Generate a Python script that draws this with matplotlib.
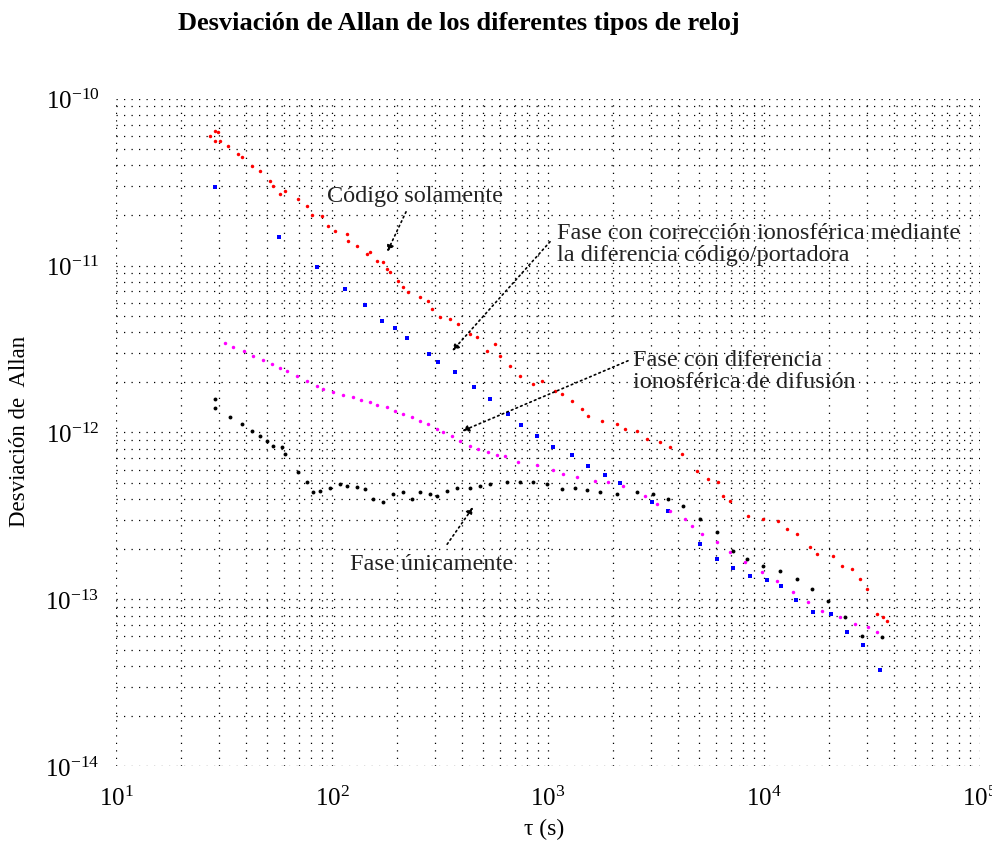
import matplotlib
matplotlib.use("Agg")
import matplotlib.pyplot as plt

plt.rcParams['font.family'] = ['Liberation Serif', 'DejaVu Serif']
plt.rcParams['mathtext.fontset'] = 'stix'

# Código solamente (red)
tau_code = [27.2, 28.7, 29.7, 28.7, 30.3, 33.0, 36.7, 38.3, 42.6, 46.4, 51.6, 53.3,
            57.4, 60.6, 69.6, 76.6, 80.8, 89.9, 95.7, 103, 117, 119, 131, 145, 150,
            161, 172, 180, 186, 202, 213, 225, 255, 278, 290, 316, 352, 383, 436, 469,
            522, 569, 600, 667, 742, 853, 938, 1077, 1161, 1291, 1437, 1531, 1778,
            2085, 2270, 2582, 2871, 3300, 3673, 4171, 4898, 5508, 6124, 6457, 6966,
            8440, 9893, 11610, 12770, 14220, 16330, 17590, 20850, 22960, 25540,
            27800, 29980, 33350, 35580, 37100]
adev_code = [6.00e-11, 6.43e-11, 6.34e-11, 5.60e-11, 5.60e-11, 5.23e-11, 4.68e-11,
             4.49e-11, 3.96e-11, 3.70e-11, 3.22e-11, 3.01e-11, 2.69e-11, 2.81e-11,
             2.51e-11, 2.28e-11, 2.01e-11, 1.99e-11, 1.73e-11, 1.62e-11, 1.55e-11,
             1.41e-11, 1.31e-11, 1.18e-11, 1.21e-11, 1.07e-11, 1.05e-11, 9.55e-12,
             9.16e-12, 8.11e-12, 7.46e-12, 6.97e-12, 6.50e-12, 6.15e-12, 5.51e-12,
             4.93e-12, 4.80e-12, 4.48e-12, 3.90e-12, 3.74e-12, 3.08e-12, 3.40e-12,
             2.88e-12, 2.51e-12, 2.18e-12, 1.95e-12, 2.04e-12, 1.77e-12, 1.70e-12,
             1.55e-12, 1.38e-12, 1.26e-12, 1.17e-12, 1.12e-12, 1.05e-12, 1.02e-12,
             9.14e-13, 8.77e-13, 8.19e-13, 7.43e-13, 5.87e-13, 5.26e-13, 5.05e-13,
             4.16e-13, 3.88e-13, 3.16e-13, 3.03e-13, 2.94e-13, 2.64e-13, 2.46e-13,
             2.06e-13, 1.87e-13, 1.82e-13, 1.58e-13, 1.52e-13, 1.32e-13, 1.15e-13,
             8.16e-14, 7.83e-14, 7.41e-14]

# Fase con corrección ionosférica mediante código/portadora (blue)
tau_cp = [28.7, 56.9, 85.3, 115, 142, 170, 196, 222, 281, 310, 371, 454, 538, 653,
          750, 889, 1054, 1291, 1531, 1836, 2154, 3029, 3594, 5058, 6058, 7182, 8610,
          10320, 11990, 14070, 16870, 20440, 24230, 28730, 34430]
adev_cp = [2.97e-11, 1.49e-11, 9.83e-12, 7.26e-12, 5.82e-12, 4.66e-12, 4.23e-12,
           3.69e-12, 2.96e-12, 2.65e-12, 2.31e-12, 1.88e-12, 1.59e-12, 1.29e-12,
           1.11e-12, 9.53e-13, 8.19e-13, 7.33e-13, 6.30e-13, 5.56e-13, 4.98e-13,
           3.83e-13, 3.38e-13, 2.14e-13, 1.74e-13, 1.54e-13, 1.38e-13, 1.30e-13,
           1.20e-13, 9.88e-14, 8.37e-14, 8.15e-14, 6.35e-14, 5.32e-14, 3.77e-14]

# Fase con diferencia ionosférica de difusión (magenta)
tau_diff = [32.0, 34.8, 39.2, 43.1, 47.9, 52.7, 57.4, 61.9, 68.9, 76.6, 85.3, 90.8,
            101, 112, 125, 136, 150, 162, 180, 196, 213, 235, 255, 278, 306, 327, 360,
            392, 436, 475, 528, 581, 632, 726, 889, 1054, 1172, 1361, 1651, 1897, 2224,
            2812, 3199, 3673, 4306, 4645, 5163, 6058, 6966, 8166, 9793, 11490, 13620,
            15990, 18570, 22490, 26380, 30290, 33350]
adev_diff = [3.44e-12, 3.26e-12, 3.08e-12, 2.88e-12, 2.72e-12, 2.58e-12, 2.44e-12,
             2.34e-12, 2.18e-12, 2.04e-12, 1.90e-12, 1.82e-12, 1.75e-12, 1.68e-12,
             1.63e-12, 1.57e-12, 1.52e-12, 1.46e-12, 1.42e-12, 1.35e-12, 1.29e-12,
             1.24e-12, 1.17e-12, 1.12e-12, 1.05e-12, 1.01e-12, 9.53e-13, 8.89e-13,
             8.30e-13, 7.96e-13, 7.64e-13, 7.33e-13, 7.23e-13, 6.65e-13, 6.38e-13,
             5.96e-13, 5.64e-13, 5.41e-13, 5.12e-13, 5.05e-13, 4.78e-13, 4.16e-13,
             3.72e-13, 3.38e-13, 3.03e-13, 2.75e-13, 2.46e-13, 2.20e-13, 1.92e-13,
             1.67e-13, 1.46e-13, 1.29e-13, 1.10e-13, 9.63e-14, 8.51e-14, 7.83e-14,
             7.11e-14, 6.82e-14, 6.37e-14]

# Fase únicamente (black)
tau_phase = [28.7, 28.7, 33.7, 38.3, 42.6, 46.4, 50.0, 53.3, 58.7, 60.6, 69.6, 76.6,
             81.7, 88.0, 97.9, 109, 117, 130, 142, 155, 172, 192, 213, 235, 255, 284,
             306, 341, 379, 436, 485, 538, 646, 742, 853, 989, 1161, 1334, 1517, 1742,
             2085, 2582, 3062, 3594, 4217, 5058, 6058, 7182, 8340, 9886, 11850, 14220,
             16680, 19780, 23710, 28440, 35160]
adev_phase = [1.59e-12, 1.40e-12, 1.24e-12, 1.12e-12, 1.02e-12, 9.53e-13, 8.89e-13,
              8.30e-13, 8.19e-13, 7.43e-13, 5.79e-13, 5.05e-13, 4.40e-13, 4.46e-13,
              4.65e-13, 4.91e-13, 4.78e-13, 4.71e-13, 4.58e-13, 3.99e-13, 3.83e-13,
              4.28e-13, 4.40e-13, 3.99e-13, 4.40e-13, 4.28e-13, 4.16e-13, 4.46e-13,
              4.65e-13, 4.65e-13, 4.78e-13, 4.91e-13, 5.05e-13, 5.05e-13, 5.05e-13,
              4.91e-13, 4.58e-13, 4.65e-13, 4.52e-13, 4.40e-13, 4.28e-13, 4.40e-13,
              4.28e-13, 3.99e-13, 3.62e-13, 3.03e-13, 2.53e-13, 1.95e-13, 1.74e-13,
              1.58e-13, 1.48e-13, 1.32e-13, 1.15e-13, 9.75e-14, 7.83e-14, 6.03e-14,
              5.94e-14]

# annotation texts, text anchor (tau, adev) and arrow head (tau, adev)
note_texts = ['Código solamente',
              'Fase con corrección ionosférica mediante\nla diferencia código/portadora',
              'Fase con diferencia\nionosférica de difusión',
              'Fase únicamente']
note_text_pos = [(94.8, 2.62e-11), (1101, 1.35e-11), (2477, 2.34e-12), (121, 1.63e-13)]
note_tail_pos = [(220, 2.10e-11), (1021, 1.39e-11), (2344, 2.69e-12), (341, 2.14e-13)]
note_head_pos = [(180, 1.21e-11), (360, 3.08e-12), (400, 1.02e-12), (450, 3.57e-13)]

fig = plt.figure(figsize=(9.92, 8.45), dpi=100)
ax = fig.add_axes([0.117, 0.092, 0.871, 0.790])

ax.loglog(tau_code, adev_code, 'o', color='red', markersize=2.5, markeredgewidth=0)
ax.loglog(tau_cp, adev_cp, 's', color='blue', markersize=3.5, markeredgewidth=0)
ax.loglog(tau_diff, adev_diff, 'o', color='magenta', markersize=2.5, markeredgewidth=0)
ax.loglog(tau_phase, adev_phase, 'o', color='black', markersize=2.8, markeredgewidth=0)

ax.set_xlim(10, 1e5)
ax.set_ylim(1e-14, 1e-10)
ax.grid(True, which='both', color='black', linestyle=(0, (1, 5)), linewidth=0.9)
for s in ax.spines.values():
    s.set_visible(False)
ax.tick_params(which='both', length=0, labelsize=18)
ax.tick_params(axis='x', pad=14)
ax.tick_params(axis='y', pad=12)

for txt, tp, tail, head in zip(note_texts, note_text_pos, note_tail_pos, note_head_pos):
    ax.text(tp[0], tp[1], txt, fontsize=17.5, color='#222222', va='center', ha='left',
            linespacing=1.05)
    ax.annotate('', xy=head, xytext=tail,
                arrowprops=dict(arrowstyle='-|>', color='black', linestyle=(0, (1, 2)),
                                lw=1.2, mutation_scale=10, shrinkA=0, shrinkB=0))

fig.text(0.463, 0.972, 'Desviación de Allan de los diferentes tipos de reloj',
         fontsize=19, fontweight='bold', ha='center', va='center')
fig.text(0.020, 0.490, 'Desviación de  Allan', fontsize=16.5, rotation=90,
         ha='center', va='center')
fig.text(0.549, 0.018, 'τ (s)', fontsize=17, ha='center', va='center')

fig.savefig('out.png', dpi=100)
